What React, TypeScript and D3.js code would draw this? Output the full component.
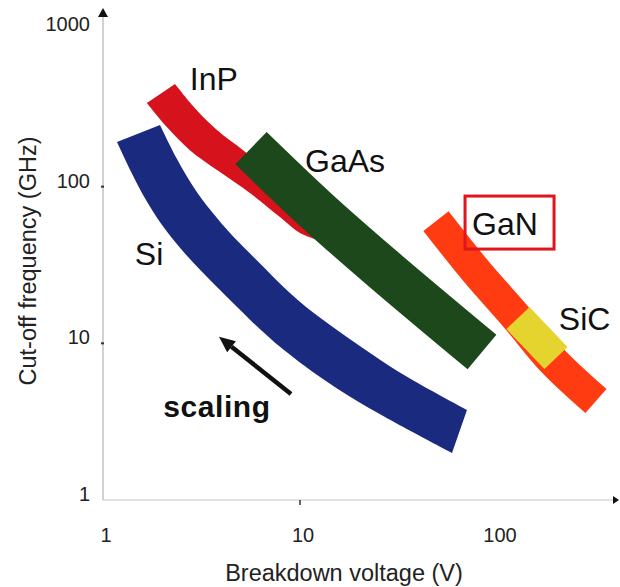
import React from "react";
import * as d3 from "d3";

const W = 620;
const H = 587;

// Axis ticks
const xTicks = [1, 10, 100];
const yTicks = [1, 10, 100, 1000];

// Si band outline (upper edge and lower edge)
const siUpperV = [1.947, 2.375, 2.863, 3.493, 4.57, 6.266, 8.294, 11.64, 17.32, 25.47, 37.46, 70.4];
const siUpperF = [247.3, 147.8, 99.4, 70.9, 47.7, 32.5, 22.5, 15.6, 10.97, 7.82, 5.75, 3.75];
const siLowerV = [1.178, 1.371, 1.672, 2.113, 2.863, 3.926, 5.576, 7.914, 14.2, 25.47, 59.1];
const siLowerF = [192.6, 127.6, 78.6, 50.6, 32.5, 21.9, 14.08, 9.33, 5.42, 3.49, 1.995];

// Band centre lines (Breakdown voltage V, Cut-off frequency GHz)
const gaasV = [5.64, 12.06, 26.1, 83.9];
const gaasF = [176, 70.9, 30.2, 8.8];

const ganV = [49.0, 77.3, 126.3, 192.4, 318];
const ganF = [60.3, 29.4, 14.5, 7.71, 4.28];

const sicV = [127.8, 159.6, 199.3];
const sicF = [14.5, 10.8, 8.06];

// InP band outline (upper edge and lower edge)
const inpUpperV = [2.32, 2.93, 3.79, 5.14, 7.04, 10, 12.34];
const inpUpperF = [452, 317, 230, 171, 124, 82.1, 64.9];
const inpLowerV = [1.67, 2.11, 2.76, 3.79, 5.57, 7.91, 10, 12.34];
const inpLowerF = [342, 240, 171, 127.6, 91.0, 64.0, 50.6, 45.6];

// Labels
const labelNames = ["InP", "GaAs", "Si", "GaN", "SiC"];
const labelV = [2.76, 10.6, 1.45, 74.7, 206];
const labelF = [413, 124, 31.6, 49.1, 12.2];

const scalingPos = [2.02, 3.39];
const arrowFrom = [9.0, 4.75];
const arrowTo = [3.88, 11.0];

const zip = (a: number[], b: number[]) => a.map((v, i) => [v, b[i]] as [number, number]);

export default function App() {
  const x = d3.scaleLog().domain([1, 1000]).range([103, 103 + 197 * 3]);
  const y = d3.scaleLog().domain([1, 1000]).range([500, 30]);

  const line = d3
    .line<[number, number]>()
    .x((d) => x(d[0]))
    .y((d) => y(d[1]))
    .curve(d3.curveCatmullRom.alpha(0.5));

  const smooth = d3
    .line<[number, number]>()
    .x((d) => x(d[0]))
    .y((d) => y(d[1]))
    .curve(d3.curveBasis);

  const band = (gen: typeof line, uV: number[], uF: number[], lV: number[], lF: number[]) =>
    gen(zip(uV, uF))! + "L" + gen(zip(lV, lF).reverse())!.slice(1) + "Z";

  const inpPath = band(line, inpUpperV, inpUpperF, inpLowerV, inpLowerF);
  const siPath = band(smooth, siUpperV, siUpperF, siLowerV, siLowerF);

  const font = "Liberation Sans, Arial, Helvetica, sans-serif";
  const x0 = x(1);
  const y0 = y(1);

  // arrow geometry
  const ax1 = x(arrowFrom[0]);
  const ay1 = y(arrowFrom[1]);
  const ax2 = x(arrowTo[0]);
  const ay2 = y(arrowTo[1]);
  const ang = Math.atan2(ay2 - ay1, ax2 - ax1);
  const hl = 16;
  const hw = 7;
  const bx = ax2 - hl * Math.cos(ang);
  const by = ay2 - hl * Math.sin(ang);
  const head = `M${ax2},${ay2}L${bx + hw * Math.sin(ang)},${by - hw * Math.cos(ang)}L${bx - hw * Math.sin(ang)},${by + hw * Math.cos(ang)}Z`;

  const ganIdx = labelNames.indexOf("GaN");
  const gx = x(labelV[ganIdx]);
  const gy = y(labelF[ganIdx]);

  return (
    <svg width={W} height={H} style={{ position: "absolute", left: 0, top: 0, background: "#fff" }} fontFamily={font}>
      {/* axes */}
      <line x1={x0} y1={y0} x2={x0} y2={14} stroke="#b8b0b8" strokeWidth={1.2} />
      <path d={`M${x0},8L${x0 - 5},17L${x0 + 5},17Z`} fill="#111" />
      <line x1={x0} y1={y0} x2={614} y2={y0} stroke="#c8c4c0" strokeWidth={1.2} />
      <path d={`M619,${y0}L613,${y0 - 4}L613,${y0 + 4}Z`} fill="#111" />
      {yTicks.slice(1, 3).map((t) => (
        <line key={"yt" + t} x1={x0 - 2} x2={x0 + 1} y1={y(t)} y2={y(t)} stroke="#333" strokeWidth={2} />
      ))}
      <line x1={x(10)} x2={x(10)} y1={y0} y2={y0 + 5} stroke="#333" strokeWidth={1.5} />

      {yTicks.map((t) => (
        <text key={"yl" + t} x={90} y={y(t) + 1} textAnchor="end" fontSize={20} fill="#222">
          {t}
        </text>
      ))}
      {xTicks.map((t) => (
        <text key={"xl" + t} x={x(t) + 3} y={542} textAnchor="middle" fontSize={20} fill="#222">
          {t}
        </text>
      ))}
      <text x={344} y={581} textAnchor="middle" fontSize={23.5} fill="#222">
        Breakdown voltage (V)
      </text>
      <text transform={`translate(36,261) rotate(-90)`} textAnchor="middle" fontSize={23.5} fill="#222">
        Cut-off frequency (GHz)
      </text>

      {/* bands */}
      <path d={siPath} fill="#1a2a7e" />
      <path d={inpPath} fill="#d6121d" />
      <path d={line(zip(gaasV, gaasF))!} fill="none" stroke="#1d481b" strokeWidth={45} strokeLinecap="butt" />
      <path d={line(zip(ganV, ganF))!} fill="none" stroke="#ff3b12" strokeWidth={32} strokeLinecap="butt" />
      <path d={line(zip(sicV, sicF))!} fill="none" stroke="#e6d42e" strokeWidth={32} strokeLinecap="butt" />

      {/* labels */}
      {labelNames.map((n, i) => (
        <text key={n} x={x(labelV[i])} y={y(labelF[i])} fontSize={32} fill="#111">
          {n}
        </text>
      ))}
      <rect x={gx - 7} y={gy - 39} width={89} height={53} fill="none" stroke="#e0141c" strokeWidth={3} />

      <text x={x(scalingPos[0])} y={y(scalingPos[1])} fontSize={30} fontWeight="bold" fill="#111" letterSpacing={0.6}>
        scaling
      </text>
      <line x1={ax1} y1={ay1} x2={bx} y2={by} stroke="#111" strokeWidth={4.5} />
      <path d={head} fill="#111" />
    </svg>
  );
}
